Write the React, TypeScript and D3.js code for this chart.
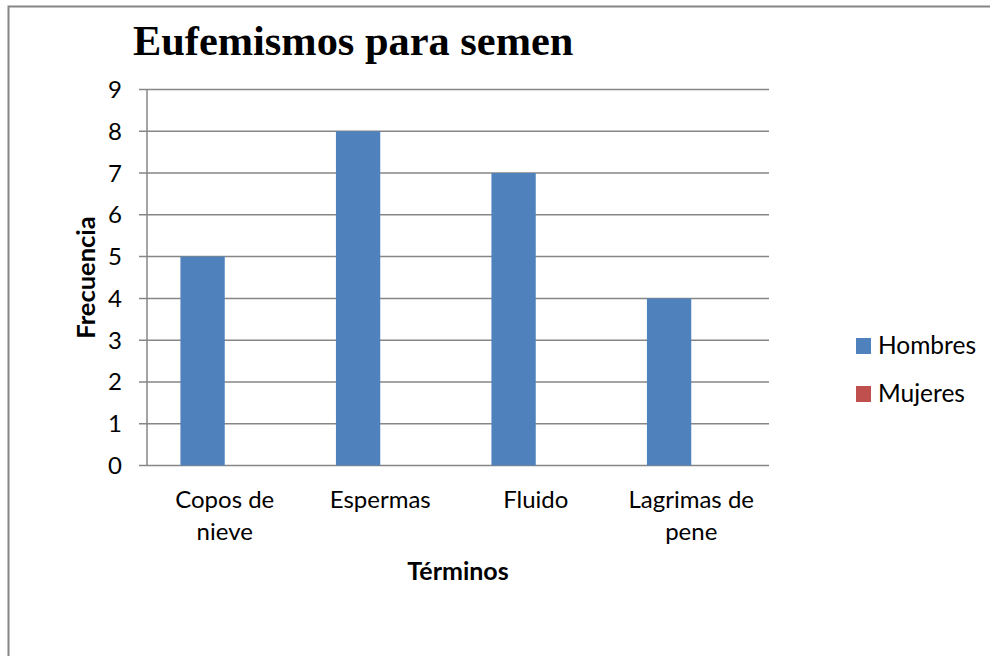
import React from "react";
import * as d3 from "d3";

const categories: string[][] = [["Copos de", "nieve"], ["Espermas"], ["Fluido"], ["Lagrimas de", "pene"]];
const seriesNames = ["Hombres", "Mujeres"];
const hombres = [5, 8, 7, 4];
const mujeres = [0, 0, 0, 0];
const yTicks = [0, 1, 2, 3, 4, 5, 6, 7, 8, 9];
const colors = ["#4F81BD", "#C0504D"];

const W = 990, H = 656;
const left = 147, right = 769, top = 89.5, bottom = 465.5;
const FONT = "Lato, 'Open Sans', sans-serif";

export default function App() {
  const x0 = d3.scaleBand<number>().domain(d3.range(categories.length)).range([left, right]).paddingInner(0.43).paddingOuter(0.215);
  const x1 = d3.scaleBand<number>().domain([0, 1]).range([0, x0.bandwidth()]);
  const y = d3.scaleLinear().domain([0, 9]).range([bottom, top]);
  const series = [hombres, mujeres];
  const catW = (right - left) / categories.length;
  const grid = "#868686";
  return (
    <svg width={W} height={H} style={{ position: "absolute", left: 0, top: 0, background: "#fff" }}>
      <rect x={8.5} y={6.5} width={1100} height={800} fill="#fff" stroke={grid} strokeWidth={2} />
      <text x={133} y={55} fontFamily="'Liberation Serif', 'Times New Roman', serif" fontWeight="bold" fontSize={42.4} fill="#000">Eufemismos para semen</text>
      {yTicks.map((t) => (
        <g key={t}>
          <line x1={left - 8} x2={right} y1={y(t)} y2={y(t)} stroke={grid} strokeWidth={1.5} />
          <text x={122} y={y(t) + 8.5} textAnchor="end" fontFamily={FONT} fontSize={24} fill="#000">{t}</text>
        </g>
      ))}
      <line x1={left} x2={left} y1={top} y2={bottom} stroke={grid} strokeWidth={1.5} />
      {series.map((vals, si) =>
        vals.map((v, i) => (
          <rect key={`${si}-${i}`} x={(x0(i) as number) + (x1(si) as number)} y={y(v)} width={x1.bandwidth()} height={bottom - y(v)} fill={colors[si]} />
        ))
      )}
      {categories.map((lines, i) => {
        const cx = left + catW * (i + 0.5);
        return (
          <text key={i} textAnchor="middle" fontFamily={FONT} fontSize={24} fill="#000">
            {lines.map((l, j) => (
              <tspan key={j} x={cx} y={508 + j * 32}>{l}</tspan>
            ))}
          </text>
        );
      })}
      <text x={(left + right) / 2} y={580} textAnchor="middle" fontFamily={FONT} fontWeight="bold" fontSize={25} fill="#000">Términos</text>
      <text transform={`translate(95,277.5) rotate(-90)`} textAnchor="middle" fontFamily={FONT} fontWeight="bold" fontSize={25.5} fill="#000">Frecuencia</text>
      {seriesNames.map((n, i) => (
        <g key={n}>
          <rect x={856} y={338 + i * 48} width={15} height={16} fill={colors[i]} />
          <text x={878} y={354 + i * 48} fontFamily={FONT} fontSize={24.5} fill="#000">{n}</text>
        </g>
      ))}
    </svg>
  );
}
